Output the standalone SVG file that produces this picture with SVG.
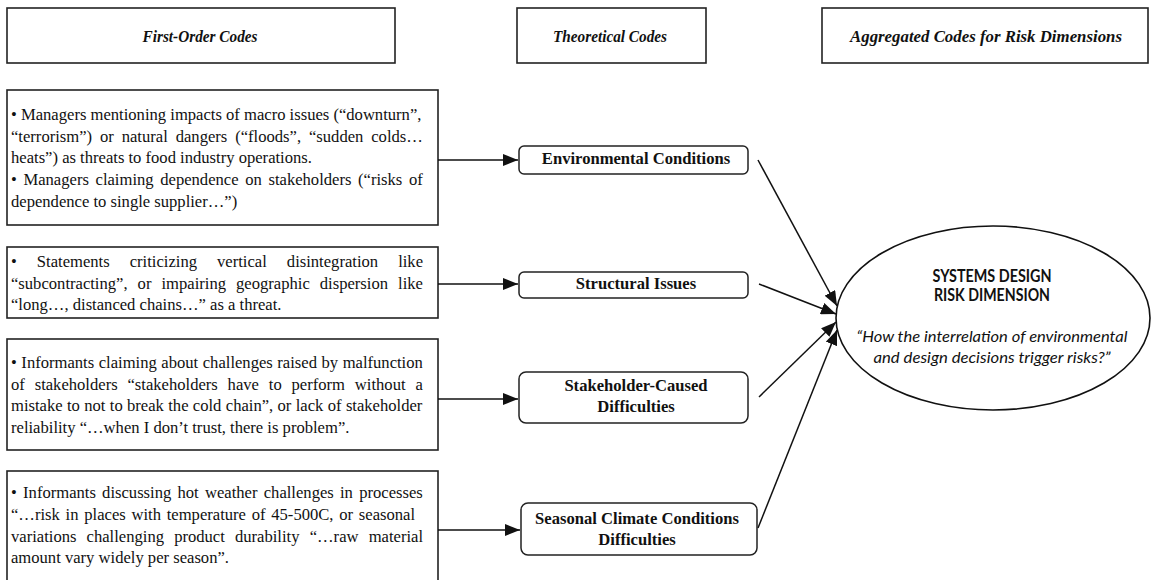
<svg xmlns="http://www.w3.org/2000/svg" width="1154" height="580" viewBox="0 0 1154 580">
<style>
.box{fill:#fff;stroke:#222;stroke-width:1.6}
.tbox{fill:#fff;stroke:#222;stroke-width:1.5}
.hdr{font-family:"Liberation Serif","Times New Roman",serif;font-size:16.5px;font-weight:bold;font-style:italic;fill:#111;text-anchor:middle}
.body{font-family:"Liberation Serif","Times New Roman",serif;font-size:16.6px;fill:#111}
.th{font-family:"Liberation Serif","Times New Roman",serif;font-size:16.6px;font-weight:bold;fill:#111;text-anchor:middle}
.el{font-family:Lato,"Open Sans",sans-serif;fill:#111;text-anchor:middle}
.conn line{stroke:#111;stroke-width:1.5;fill:none}
</style>
<defs>
<marker id="ah" markerUnits="userSpaceOnUse" markerWidth="15" markerHeight="12" refX="15" refY="6" orient="auto">
<path d="M0,0 L15,6 L0,12 z" fill="#111"/>
</marker>
</defs>
<rect width="1154" height="580" fill="#fff"/>

<g id="header-first-order">
<rect class="box" x="7" y="8" width="388" height="55"/>
<text class="hdr" x="200" y="42" textLength="115" lengthAdjust="spacingAndGlyphs">First-Order Codes</text>
</g>
<g id="header-theoretical">
<rect class="box" x="517" y="8" width="189" height="55"/>
<text class="hdr" x="610" y="42" textLength="114" lengthAdjust="spacingAndGlyphs">Theoretical Codes</text>
</g>
<g id="header-aggregated">
<rect class="box" x="822" y="8" width="326" height="55"/>
<text class="hdr" x="986" y="42" textLength="272" lengthAdjust="spacingAndGlyphs">Aggregated Codes for Risk Dimensions</text>
</g>

<g id="first-order-1">
<rect class="box" x="7" y="90" width="431" height="135"/>
<text class="body" x="11" y="120">• Managers mentioning impacts of macro issues (“downturn”,</text>
<text class="body" x="11" y="142" word-spacing="3.75">“terrorism”) or natural dangers (“floods”, “sudden colds…</text>
<text class="body" x="11" y="163">heats”) as threats to food industry operations.</text>
<text class="body" x="11" y="185" word-spacing="2.5">• Managers claiming dependence on stakeholders (“risks of</text>
<text class="body" x="11" y="207">dependence to single supplier…”)</text>
</g>

<g id="first-order-2">
<rect class="box" x="7" y="247" width="431" height="71"/>
<text class="body" x="11" y="267" word-spacing="15.9">• Statements criticizing vertical disintegration like</text>
<text class="body" x="11" y="289" word-spacing="5.9">“subcontracting”, or impairing geographic dispersion like</text>
<text class="body" x="11" y="310">“long…, distanced chains…” as a threat.</text>
</g>

<g id="first-order-3">
<rect class="box" x="7" y="339" width="431" height="111"/>
<text class="body" x="11" y="368" word-spacing="0.4">• Informants claiming about challenges raised by malfunction</text>
<text class="body" x="11" y="390" word-spacing="5.7">of stakeholders “stakeholders have to perform without a</text>
<text class="body" x="11" y="411" word-spacing="0.2">mistake to not to break the cold chain”, or lack of stakeholder</text>
<text class="body" x="11" y="433">reliability “…when I don’t trust, there is problem”.</text>
</g>

<g id="first-order-4">
<rect class="box" x="7" y="471" width="431" height="125"/>
<text class="body" x="11" y="498" word-spacing="2.1">• Informants discussing hot weather challenges in processes</text>
<text class="body" x="11" y="520" word-spacing="1.6">“…risk in places with temperature of 45-500C, or seasonal</text>
<text class="body" x="11" y="542" word-spacing="6">variations challenging product durability “…raw material</text>
<text class="body" x="11" y="563">amount vary widely per season”.</text>
</g>

<g id="theoretical-environmental">
<rect class="tbox" x="519" y="146" width="229" height="28" rx="5"/>
<text class="th" x="636" y="164">Environmental Conditions</text>
</g>
<g id="theoretical-structural">
<rect class="tbox" x="519" y="272" width="229" height="26" rx="5"/>
<text class="th" x="636" y="289">Structural Issues</text>
</g>
<g id="theoretical-stakeholder">
<rect class="tbox" x="519" y="372" width="229" height="51" rx="7"/>
<text class="th" x="636" y="391">Stakeholder-Caused</text>
<text class="th" x="636" y="412">Difficulties</text>
</g>
<g id="theoretical-seasonal">
<rect class="tbox" x="521" y="503" width="236" height="52" rx="7"/>
<text class="th" x="637" y="524">Seasonal Climate Conditions</text>
<text class="th" x="637" y="545">Difficulties</text>
</g>

<g id="systems-design-risk">
<ellipse cx="993" cy="318" rx="157" ry="92" fill="#fff" stroke="#111" stroke-width="1.6"/>
<text class="el" x="992" y="282" font-size="16.5" font-weight="bold" textLength="119" lengthAdjust="spacingAndGlyphs">SYSTEMS DESIGN</text>
<text class="el" x="992" y="301" font-size="16.5" font-weight="bold" textLength="116" lengthAdjust="spacingAndGlyphs">RISK DIMENSION</text>
<text class="el" x="992" y="342" font-size="16" font-style="italic" textLength="271" lengthAdjust="spacingAndGlyphs">“How the interrelation of environmental</text>
<text class="el" x="992" y="363" font-size="16" font-style="italic" textLength="237" lengthAdjust="spacingAndGlyphs">and design decisions trigger risks?”</text>
</g>

<g id="connectors" class="conn">
<line x1="438" y1="160" x2="518" y2="160" marker-end="url(#ah)"/>
<line x1="438" y1="284" x2="518" y2="284" marker-end="url(#ah)"/>
<line x1="438" y1="399" x2="518" y2="399" marker-end="url(#ah)"/>
<line x1="438" y1="530" x2="520" y2="530" marker-end="url(#ah)"/>
<line x1="758" y1="160" x2="837" y2="306" marker-end="url(#ah)"/>
<line x1="759" y1="284" x2="836" y2="314" marker-end="url(#ah)"/>
<line x1="759" y1="397" x2="836" y2="322" marker-end="url(#ah)"/>
<line x1="758" y1="528" x2="837" y2="330" marker-end="url(#ah)"/>
</g>
</svg>
